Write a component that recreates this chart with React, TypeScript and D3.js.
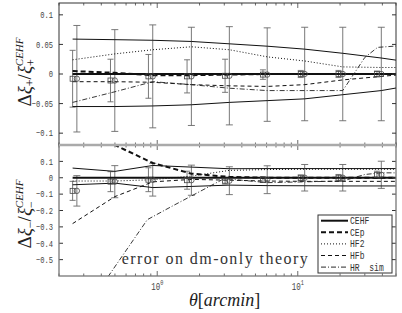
import React from 'react';
import * as d3 from 'd3';

// angular positions (arcmin)
const thetaBig = [0.268, 0.499, 0.929, 1.75, 3.26, 6.06, 11.2, 20.9, 39.3];
const thetaSmall = [0.25, 0.465, 0.866, 1.63, 3.04, 5.65, 10.5, 19.5, 36.6];
const thetaLine = [0.25, 0.5, 0.93, 1.75, 3.26, 6.06, 11.2, 20.9, 39.3, 55];

// xi+ panel
const ptTop = [-0.008, -0.011, -0.004, -0.004, -0.003, -0.001, 0, 0, 0];
const bigErrTop = [0.09, 0.086, 0.087, 0.083, 0.083, 0.079, 0.079, 0.079, 0.079];
const smallErrTop = [0.048, 0.036, 0.037, 0.028, 0.028, 0.008, 0.006, 0.006, 0.005];
const cehfTop = [0, 0, 0, 0, 0, 0, 0, 0, 0, 0];
const envUpTop = [0.059, 0.058, 0.057, 0.055, 0.051, 0.047, 0.042, 0.035, 0.027, 0.022];
const envLoTop = [-0.055, -0.055, -0.054, -0.052, -0.048, -0.045, -0.042, -0.035, -0.028, -0.022];
const cepTop = [0.005, 0.002, -0.002, -0.002, -0.001, 0, 0, 0, 0, 0];
const hf2Top = [0.024, 0.034, 0.041, 0.046, 0.041, 0.029, 0.022, 0.012, 0.011, 0.011];
const hfbTop = [-0.013, -0.013, -0.014, -0.018, -0.02, -0.021, -0.018, -0.01, -0.004, -0.001];
const hrThetaTop = [0.25, 0.5, 0.93, 1.75, 3.26, 6.06, 11.2, 20.9, 30, 37, 55];
const hrTop = [-0.048, -0.03, -0.013, -0.018, -0.024, -0.028, -0.028, -0.028, 0.028, 0.045, 0.048];

// xi- panel
const ptBot = [-0.08, -0.024, -0.012, -0.015, -0.018, -0.012, 0, 0, 0.018];
const bigErrBot = [0.093, 0.098, 0.1, 0.092, 0.085, 0.085, 0.081, 0.081, 0.083];
const smallErrBot = [0.058, 0.061, 0.073, 0.055, 0.02, 0.017, 0.017, 0.02, 0.022];
const cehfBot = [0, 0, 0, 0, 0, 0, 0, 0, 0, 0];
const envUpBot = [0.059, 0.039, 0.075, 0.065, 0.055, 0.056, 0.056, 0.056, 0.056, 0.056];
const envLoBot = [-0.043, -0.033, -0.06, -0.053, -0.045, -0.048, -0.049, -0.05, -0.05, -0.05];
const cepBot = [0.5, 0.2, 0.09, 0.025, 0.005, 0, 0, 0, 0, 0];
const hf2Bot = [-0.02, -0.02, -0.012, 0.01, 0.045, 0.05, 0.052, 0.052, 0.052, 0.052];
const hfbBot = [-0.28, -0.115, -0.025, -0.01, -0.015, -0.02, -0.022, -0.022, -0.022, -0.022];
const hrThetaBot = [0.25, 0.45, 0.85, 1.3, 3.0, 6.06, 11.2, 20.9, 30, 39.3, 55];
const hrBot = [-0.9, -0.6, -0.256, -0.17, -0.005, -0.03, -0.025, -0.02, 0.02, 0.03, 0.03];

const yTicksTop = [0.1, 0.05, 0, -0.05, -0.1];
const yTicksBot = [0.1, 0, -0.1, -0.2, -0.3, -0.4, -0.5];
const legendNames = ['CEHF', 'CEp', 'HF2', 'HFb', 'HR sim'];

const styles = [
  { w: 2, dash: '' },
  { w: 2, dash: '5,3' },
  { w: 1, dash: '1,2' },
  { w: 1, dash: '4,3' },
  { w: 0.9, dash: '5,2,1,2' },
];

const L = 59, R = 396;
const T1 = 3, B1 = 145, T2 = 145, B2 = 276;

const fmt = (v: number) => (v < 0 ? '\u2212' : '') + String(Math.abs(v));

export default function App() {
  const x = d3.scaleLog().domain([0.2, 50]).range([L, R]);
  const yT = d3.scaleLinear().domain([-0.12, 0.12]).range([B1, T1]);
  const yB = d3.scaleLinear().domain([-0.6, 0.2]).range([B2, T2]);

  const lineOf = (xs: number[], ys: number[], y: any) =>
    d3.line<number>().x((_, i) => x(xs[i])).y(d => y(d))(ys) || '';

  const minor: number[] = [];
  [0.1, 1, 10].forEach(dec => {
    for (let k = 2; k <= 9; k++) {
      const v = dec * k;
      if (v >= 0.2 && v <= 50) minor.push(v);
    }
  });

  const panel = (
    id: string, y: any, top: number, bot: number, pts: number[], bigE: number[], smallE: number[],
    series: number[][], hrX: number[], hrY: number[], env: number[][], ticks: number[]
  ) => (
    <g>
      <defs>
        <clipPath id={id}><rect x={L} y={top} width={R - L} height={bot - top} /></clipPath>
      </defs>
      <g clipPath={`url(#${id})`}>
        {thetaBig.map((t, i) => {
          const cx = x(t), cs = x(thetaSmall[i]);
          return (
            <g key={i} stroke="#6a6a6a" strokeWidth={0.9}>
              <line x1={cx} x2={cx} y1={y(pts[i] + bigE[i])} y2={y(pts[i] - bigE[i])} />
              <line x1={cx - 3.5} x2={cx + 3.5} y1={y(pts[i] + bigE[i])} y2={y(pts[i] + bigE[i])} />
              <line x1={cx - 3.5} x2={cx + 3.5} y1={y(pts[i] - bigE[i])} y2={y(pts[i] - bigE[i])} />
              <line x1={cs} x2={cs} y1={y(pts[i] + smallE[i])} y2={y(pts[i] - smallE[i])} />
              <line x1={cs - 3} x2={cs + 3} y1={y(pts[i] + smallE[i])} y2={y(pts[i] + smallE[i])} />
              <line x1={cs - 3} x2={cs + 3} y1={y(pts[i] - smallE[i])} y2={y(pts[i] - smallE[i])} />
            </g>
          );
        })}
        {env.map((e, i) => (
          <path key={'e' + i} d={lineOf(thetaLine, e, y)} fill="none" stroke="#111" strokeWidth={1} />
        ))}
        {series.map((s, i) => (
          <path key={'s' + i} d={lineOf(thetaLine, s, y)} fill="none" stroke="#111"
            strokeWidth={styles[i].w} strokeDasharray={styles[i].dash} />
        ))}
        <path d={lineOf(hrX, hrY, y)} fill="none" stroke="#222"
          strokeWidth={styles[4].w} strokeDasharray={styles[4].dash} />
        {thetaBig.map((t, i) => (
          <g key={'m' + i} fill="none" stroke="#444" strokeWidth={0.8}>
            <rect x={x(thetaSmall[i]) - 2.5} y={y(pts[i]) - 2.5} width={5} height={5} />
            <circle cx={x(t)} cy={y(pts[i])} r={2.7} />
          </g>
        ))}
      </g>
      {ticks.map(v => (
        <g key={v}>
          <line x1={L} x2={L + 4} y1={y(v)} y2={y(v)} stroke="#333" />
          <line x1={R} x2={R - 4} y1={y(v)} y2={y(v)} stroke="#333" />
          <g transform={`translate(53,${y(v) + 3.3}) scale(0.75,1)`}>
            <text textAnchor="end" fontFamily="Liberation Mono" fontSize={9.5} fill="#444">{fmt(v)}</text>
          </g>
        </g>
      ))}
      {minor.map(v => (
        <g key={'mx' + v} stroke="#444" strokeWidth={0.8}>
          <line x1={x(v)} x2={x(v)} y1={top} y2={top + 2.5} />
          <line x1={x(v)} x2={x(v)} y1={bot} y2={bot - 2.5} />
        </g>
      ))}
      {[1, 10].map(v => (
        <g key={'Mx' + v} stroke="#444" strokeWidth={0.8}>
          <line x1={x(v)} x2={x(v)} y1={top} y2={top + 5} />
          <line x1={x(v)} x2={x(v)} y1={bot} y2={bot - 5} />
        </g>
      ))}
    </g>
  );

  const legX = 318, legY = 215, legW = 74, legH = 58;

  return (
    <svg width={402} height={313} style={{ position: 'absolute', left: 0, top: 0, background: '#fff' }}>
      {panel('cpTop', yT, T1, B1, ptTop, bigErrTop, smallErrTop,
        [cehfTop, cepTop, hf2Top, hfbTop], hrThetaTop, hrTop, [envUpTop, envLoTop], yTicksTop)}
      {panel('cpBot', yB, T2, B2, ptBot, bigErrBot, smallErrBot,
        [cehfBot, cepBot, hf2Bot, hfbBot], hrThetaBot, hrBot, [envUpBot, envLoBot], yTicksBot)}

      <rect x={L} y={T1} width={R - L} height={B1 - T1} fill="none" stroke="#333" strokeWidth={1} />
      <rect x={L} y={T2} width={R - L} height={B2 - T2} fill="none" stroke="#777" strokeWidth={1.3} />
      <line x1={L} x2={R} y1={B1} y2={B1} stroke="#aaa" strokeWidth={2.5} />

      <text x={121.7} y={263.5} fontFamily="Liberation Serif" fontSize={16} fill="#333"
        textLength={186} lengthAdjust="spacing">error on dm-only theory</text>

      <g>
        <rect x={legX} y={legY} width={legW} height={legH} fill="#fff" stroke="#333" strokeWidth={1} />
        {legendNames.map((n, i) => {
          const ly = 220.7 + i * 11.6;
          return (
            <g key={n}>
              <line x1={321} x2={348} y1={ly} y2={ly} stroke="#111"
                strokeWidth={styles[i].w} strokeDasharray={styles[i].dash} />
              <g transform={`translate(350,${ly + 3.5}) scale(0.7,1)`}>
                <text fontFamily="Liberation Mono" fontSize={11.5} fill="#333" style={{ whiteSpace: 'pre' }}>
                  {n === 'HR sim' ? 'HR  sim' : n}
                </text>
              </g>
            </g>
          );
        })}
      </g>

      {[1, 10].map((v, i) => (
        <g key={'xl' + v} transform={`translate(${x(v) - 6},290) scale(0.75,1)`}>
          <text fontFamily="Liberation Mono" fontSize={10} fill="#444">10
            <tspan fontSize={7} dy={-5}>{i}</tspan>
          </text>
        </g>
      ))}

      <text x={189} y={306} fontFamily="Liberation Serif" fontSize={18} fill="#222">
        <tspan fontStyle="italic">θ</tspan>[<tspan fontStyle="italic">arcmin</tspan>]
      </text>

      <text transform="translate(31,72) rotate(-90)" textAnchor="middle" fontFamily="Liberation Serif" fontSize={19} fill="#222">
        Δ<tspan fontStyle="italic">ξ</tspan><tspan fontSize={12} dy={3}>+</tspan><tspan dy={-3}>/</tspan><tspan fontStyle="italic">ξ</tspan><tspan fontSize={12} dy={4}>+</tspan><tspan fontSize={11} fontStyle="italic" dx={-7} dy={-12}>CEHF</tspan>
      </text>
      <text transform="translate(31,214) rotate(-90)" textAnchor="middle" fontFamily="Liberation Serif" fontSize={19} fill="#222">
        Δ<tspan fontStyle="italic">ξ</tspan><tspan fontSize={12} dy={3}>−</tspan><tspan dy={-3}>/</tspan><tspan fontStyle="italic">ξ</tspan><tspan fontSize={12} dy={4}>−</tspan><tspan fontSize={11} fontStyle="italic" dx={-7} dy={-12}>CEHF</tspan>
      </text>
    </svg>
  );
}
